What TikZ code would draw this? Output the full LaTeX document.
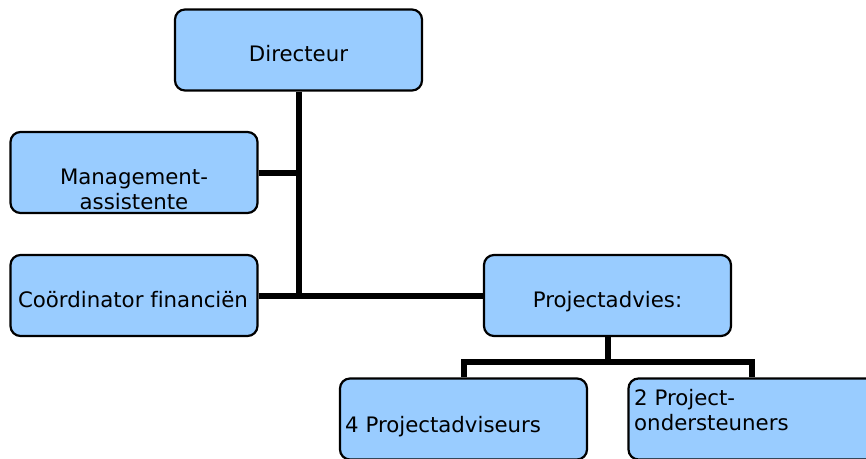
\documentclass[tikz,border=0pt]{standalone}
\usepackage{fontspec}
\setmainfont{DejaVu Sans}[Ligatures=NoCommon]
\usetikzlibrary{positioning, calc}
\definecolor{boxblue}{HTML}{99CCFF}

\begin{document}
\begin{tikzpicture}[x=1pt, y=-1pt,
    box/.style={draw, line width=2.2pt, fill=boxblue, rounded corners=10pt,
        minimum width=247pt, minimum height=81pt, inner sep=0pt},
    lbl/.style={inner sep=0pt, font=\fontsize{21.3}{25}\selectfont},
    conn/.style={line width=6pt}]
    \useasboundingbox (0,0) rectangle (866,458);
    \clip (0,0) rectangle (866,458);

    \node[box] (dir) at (298.5,50) {};
    \node[box] (mgmt) at (134,172.5) {};
    \node[box] (fin) at (134,295.5) {};
    \node[box] (proj) at (607.5,295.5) {};
    \node[box] (adv) at (463.5,419) {};
    \node[box] (ond) at (752,419) {};

    \node[lbl, anchor=base] (dirtxt) at (298.5,61) {Directeur};
    \node[lbl, anchor=base, align=center] (mgmttxt) at (134,209) {Management-\\assistente};
    \node[lbl, anchor=base] (fintxt) at (133,307) {Coördinator financiën};
    \node[lbl, anchor=base] (projtxt) at (607.5,307) {Projectadvies:};
    \node[lbl, anchor=base west] (advtxt) at (345,432) {4 Projectadviseurs};
    \node[lbl, anchor=base west, align=left] (ondtxt) at (634,430) {2 Project-\\ondersteuners};

    \coordinate (split) at ($(proj.south)+(0,25)$);

    \draw[conn] (dir.south) -- (dir.south |- fin.east);
    \draw[conn] (mgmt.east) -- (mgmt.east -| dir.south);
    \draw[conn] (fin.east) -- (proj.west);
    \draw[conn] (proj.south) -- (split);
    \draw[conn] (adv.north) |- (split) -| (ond.north);
\end{tikzpicture}
\end{document}
